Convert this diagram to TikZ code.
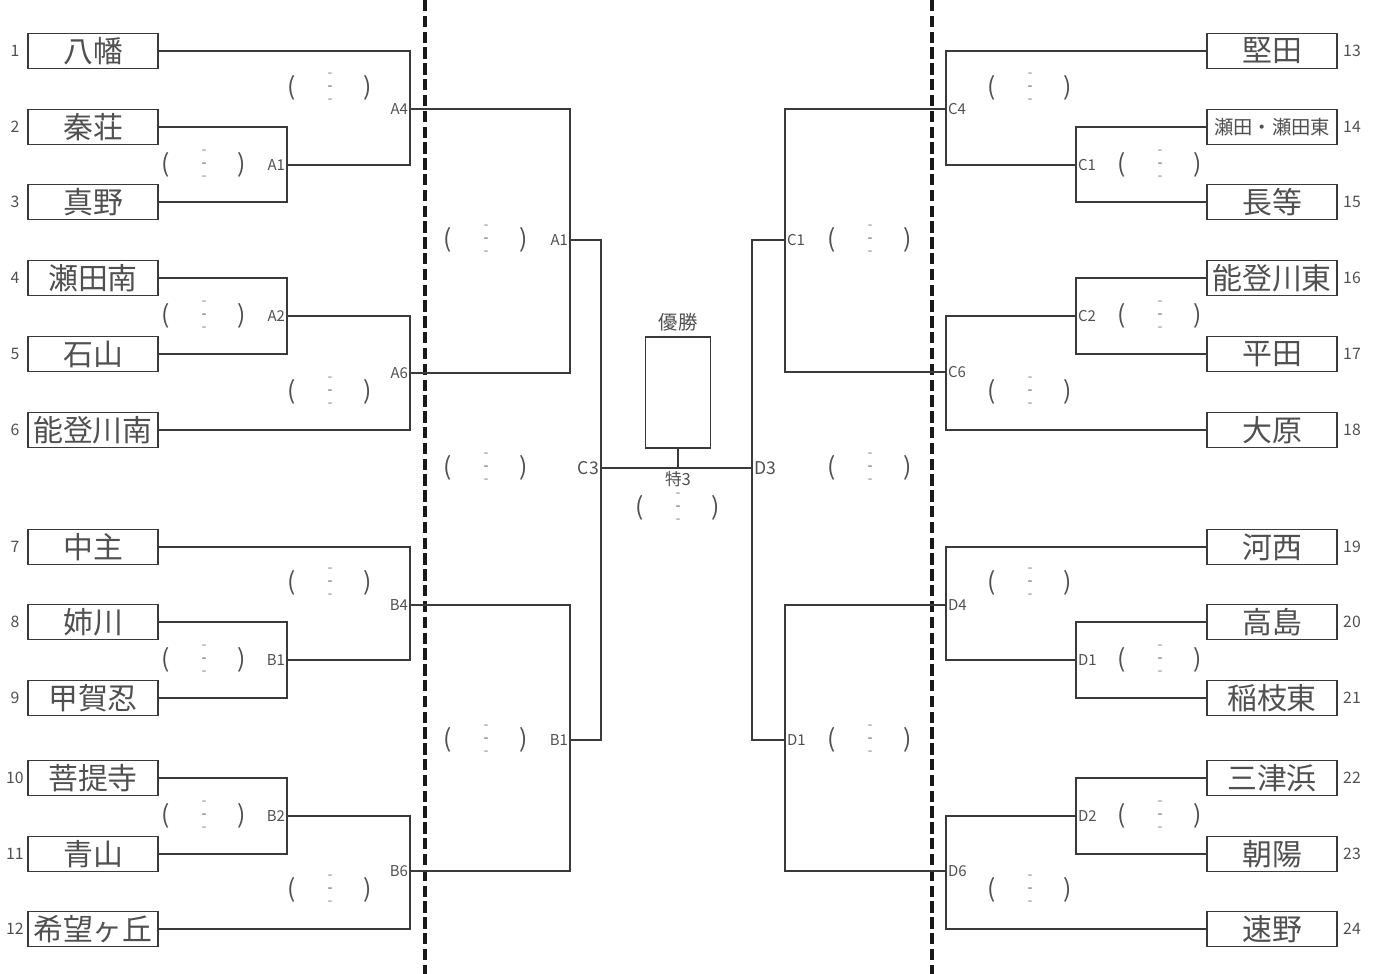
\documentclass[tikz,border=0pt]{standalone}
\usepackage{fontspec}
\setmainfont{Noto Sans CJK JP}
\usetikzlibrary{positioning}
\definecolor{linegray}{HTML}{3A3A3A}
\definecolor{textgray}{HTML}{505050}
\tikzset{
  team/.style={draw=linegray, line width=1pt, minimum width=2.6cm, minimum height=0.7cm,
    inner sep=0pt, font=\fontsize{17}{17}\selectfont, text=textgray},
  seed/.style={font=\fontsize{9}{9}\selectfont, text=textgray, inner sep=0pt},
  mlabel/.style={font=\fontsize{8.5}{8.5}\selectfont, text=textgray, inner sep=1pt},
  paren/.style={font=\fontsize{14}{14}\selectfont, text=textgray, inner sep=0pt},
  dashmark/.style={font=\fontsize{8}{8}\selectfont, text=textgray!70, inner sep=0pt},
  bracket/.style={draw=linegray, line width=0.8pt},
  divider/.style={draw=black!90, line width=2pt, dash pattern=on 6.5pt off 2.5pt},
}
\newcommand{\scoremark}[3]{%
  \node[paren] (#1l) at ({#2-38},#3) {(};
  \node[paren] (#1r) at ({#2+38},#3) {)};
  \node[dashmark] (#1a) at (#2,{#3-13}) {-};
  \node[dashmark, text=textgray] (#1b) at (#2,#3) {-};
  \node[dashmark] (#1c) at (#2,{#3+13}) {-};
}

\begin{document}
\begin{tikzpicture}[x=0.02cm, y=-0.02cm]
\useasboundingbox (0,0) rectangle (1377,974);

\foreach \n/\y/\name in {1/51/八幡, 2/127/秦荘, 3/202/真野, 4/278/瀬田南, 5/354/石山, 6/430/能登川南,
    7/547/中主, 8/622/姉川, 9/698/甲賀忍, 10/778/菩提寺, 11/854/青山, 12/929/希望ヶ丘} {
  \node[team] (t\n) at (93,\y) {\name};
  \node[seed] (n\n) at (15,\y) {\n};
}
\foreach \n/\y/\name in {13/51/堅田, 14/127/{\fontsize{11}{11}\selectfont 瀬田・瀬田東}, 15/202/長等,
    16/278/能登川東, 17/354/平田, 18/430/大原, 19/547/河西, 20/622/高島, 21/698/稲枝東,
    22/778/三津浜, 23/854/朝陽, 24/929/速野} {
  \node[team] (t\n) at (1272,\y) {\name};
  \node[seed] (n\n) at (1352,\y) {\n};
}

\coordinate (jA1) at (287,165);
\coordinate (jA4) at (410,109);
\coordinate (jA2) at (287,316);
\coordinate (jA6) at (410,373);
\coordinate (jB1) at (287,660);
\coordinate (jB4) at (410,605);
\coordinate (jB2) at (287,816);
\coordinate (jB6) at (410,871);
\coordinate (kA1) at (570,240);
\coordinate (kB1) at (570,740);
\coordinate (jC3) at (601,468);
\coordinate (jD3) at (752,468);
\coordinate (kC1) at (785,240);
\coordinate (kD1) at (785,740);
\coordinate (jC4) at (946,109);
\coordinate (jC1) at (1076,165);
\coordinate (jC2) at (1076,316);
\coordinate (jC6) at (946,372);
\coordinate (jD4) at (946,605);
\coordinate (jD1) at (1076,660);
\coordinate (jD2) at (1076,816);
\coordinate (jD6) at (946,871);
\coordinate (jF) at (678,468);

\draw[divider] (425,0) -- (425,974);
\draw[divider] (932,0) -- (932,974);

\draw[bracket] (t2.east) -| (jA1) |- (t3.east);
\draw[bracket] (t1.east) -| (jA4) |- (jA1);
\draw[bracket] (t4.east) -| (jA2) |- (t5.east);
\draw[bracket] (t6.east) -| (jA6) |- (jA2);
\draw[bracket] (t8.east) -| (jB1) |- (t9.east);
\draw[bracket] (t7.east) -| (jB4) |- (jB1);
\draw[bracket] (t10.east) -| (jB2) |- (t11.east);
\draw[bracket] (t12.east) -| (jB6) |- (jB2);
\draw[bracket] (jA4) -| (kA1) |- (jA6);
\draw[bracket] (jB4) -| (kB1) |- (jB6);
\draw[bracket] (kA1) -| (jC3) |- (kB1);
\draw[bracket] (jC3) -- (jD3);
\draw[bracket] (kC1) -| (jD3) |- (kD1);
\draw[bracket] (jC4) -| (kC1) |- (jC6);
\draw[bracket] (jD4) -| (kD1) |- (jD6);
\draw[bracket] (t14.west) -| (jC1) |- (t15.west);
\draw[bracket] (t13.west) -| (jC4) |- (jC1);
\draw[bracket] (t16.west) -| (jC2) |- (t17.west);
\draw[bracket] (t18.west) -| (jC6) |- (jC2);
\draw[bracket] (t20.west) -| (jD1) |- (t21.west);
\draw[bracket] (t19.west) -| (jD4) |- (jD1);
\draw[bracket] (t22.west) -| (jD2) |- (t23.west);
\draw[bracket] (t24.west) -| (jD6) |- (jD2);

\node[draw=linegray, line width=0.8pt, minimum width=1.3cm, minimum height=2.22cm] (win) at (678,392.5) {};
\draw[bracket] (win.south) -- (jF);
\node[mlabel, font=\fontsize{11}{11}\selectfont] (winlab) at (678,322) {優勝};
\node[mlabel, font=\fontsize{9.5}{9.5}\selectfont] (tok) at (678,479) {特3};

\foreach \j/\t in {jA1/A1, jA4/A4, jA2/A2, jA6/A6, jB1/B1, jB4/B4, jB2/B2, jB6/B6, kA1/A1, kB1/B1}
  \node[mlabel, left] (l\j) at (\j) {\t};
\foreach \j/\t in {jC1/C1, jC4/C4, jC2/C2, jC6/C6, jD1/D1, jD4/D4, jD2/D2, jD6/D6, kC1/C1, kD1/D1}
  \node[mlabel, right] (l\j) at (\j) {\t};
\node[mlabel, left, font=\fontsize{10}{10}\selectfont] (ljC3) at (jC3) {C3};
\node[mlabel, right, font=\fontsize{10}{10}\selectfont] (ljD3) at (jD3) {D3};

\scoremark{sA4}{330}{88}
\scoremark{sA1}{204}{165}
\scoremark{sA2}{204}{316}
\scoremark{sA6}{330}{392}
\scoremark{sB4}{330}{583}
\scoremark{sB1}{204}{660}
\scoremark{sB2}{204}{816}
\scoremark{sB6}{330}{890}
\scoremark{skA}{486}{240}
\scoremark{sC3}{486}{468}
\scoremark{skB}{486}{740}
\scoremark{sF}{678}{508}
\scoremark{skC}{870}{240}
\scoremark{sD3}{870}{468}
\scoremark{skD}{870}{740}
\scoremark{sC4}{1030}{88}
\scoremark{sC1}{1160}{165}
\scoremark{sC2}{1160}{316}
\scoremark{sC6}{1030}{392}
\scoremark{sD4}{1030}{583}
\scoremark{sD1}{1160}{660}
\scoremark{sD2}{1160}{816}
\scoremark{sD6}{1030}{890}
\end{tikzpicture}
\end{document}
